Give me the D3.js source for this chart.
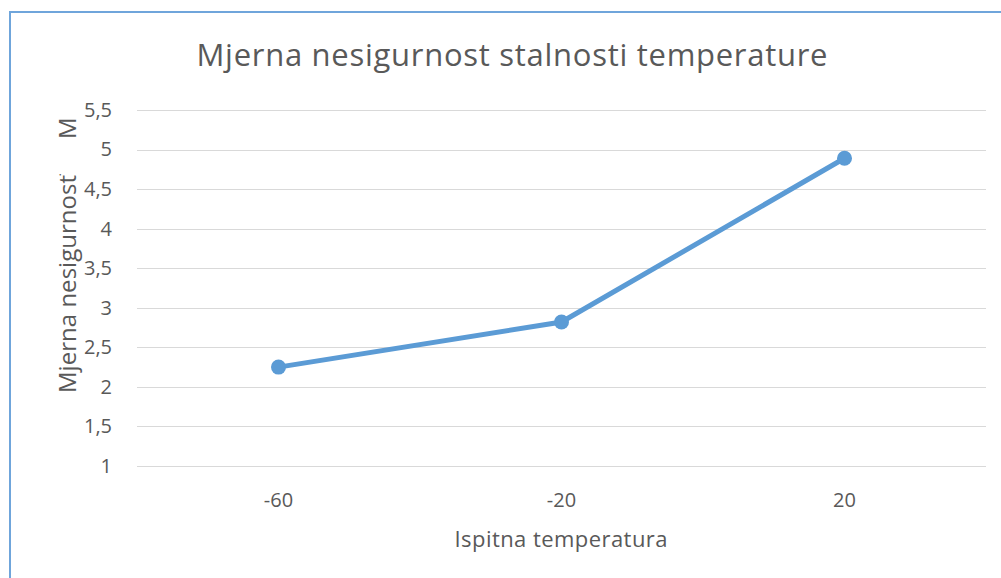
<!DOCTYPE html>
<html>
<head>
<meta charset="utf-8">
<script src="https://cdn.jsdelivr.net/npm/d3@7"></script>
<style>
  body { margin:0; background:#fff; }
  text { font-family: "Open Sans", "Noto Sans", sans-serif; fill:#595959; }
</style>
</head>
<body>
<svg id="chart"></svg>
<script>
const W = 1001, H = 578;

const categories = ['-60', '-20', '20'];
const values = [2.25, 2.82, 4.89];
const yTicks = [1, 1.5, 2, 2.5, 3, 3.5, 4, 4.5, 5, 5.5];

const svg = d3.select('#chart').attr('width', W).attr('height', H);

// chart frame (clipped on right/bottom in the reference)
svg.append('path')
  .attr('d', `M10,${H}V12H${W}`)
  .attr('fill', 'none').attr('stroke', '#6fa5db').attr('stroke-width', 2);

const x = d3.scaleBand().domain(categories).range([137, 986]);
const y = d3.scaleLinear().domain([1, 5.5]).range([466, 110]);

// gridlines
svg.append('g').selectAll('line').data(yTicks).join('line')
  .attr('x1', 137).attr('x2', 986)
  .attr('y1', d => Math.round(y(d)) + .5).attr('y2', d => Math.round(y(d)) + .5)
  .attr('stroke', '#d9d9d9').attr('stroke-width', 1);

// y axis
const yAxis = svg.append('g').attr('transform', 'translate(124,0)')
  .call(d3.axisLeft(y).tickValues(yTicks).tickSize(0).tickPadding(12)
    .tickFormat(d => String(d).replace('.', ',')));
yAxis.select('.domain').remove();
yAxis.attr('font-size', 20).selectAll('text').attr('fill', '#595959');

// x axis
const xAxis = svg.append('g').attr('transform', 'translate(0,466)')
  .call(d3.axisBottom(x).tickSize(0).tickPadding(0));
xAxis.select('.domain').remove();
xAxis.attr('font-size', 20).selectAll('text').attr('fill', '#595959')
  .attr('dy', null).attr('y', 41);

// line
const line = d3.line().x((d, i) => x(categories[i]) + x.bandwidth() / 2).y(d => y(d));
svg.append('path').datum(values)
  .attr('d', line).attr('fill', 'none')
  .attr('stroke', '#5b9bd5').attr('stroke-width', 5).attr('stroke-linecap', 'round');

svg.append('g').selectAll('circle').data(values).join('circle')
  .attr('cx', (d, i) => x(categories[i]) + x.bandwidth() / 2)
  .attr('cy', d => y(d)).attr('r', 7.5).attr('fill', '#5b9bd5');

// titles
svg.append('text').attr('x', 512).attr('y', 66).attr('text-anchor', 'middle')
  .attr('textLength', 631)
  .style('font-size', '31px').text('Mjerna nesigurnost stalnosti temperature');

svg.append('text').attr('x', 561).attr('y', 547).attr('text-anchor', 'middle')
  .attr('textLength', 213)
  .style('font-size', '22px').text('Ispitna temperatura');

const yt = svg.append('text').attr('transform', 'translate(76,0) rotate(-90)')
  .style('font-size', '24px');
yt.append('tspan').attr('x', -393).attr('textLength', 218).text('Mjerna nesigurnost');
yt.append('tspan').attr('x', -176).attr('dy', -6).style('font-size', '14px').text('˙');
yt.append('tspan').attr('x', -139).attr('dy', 6).text('M');
</script>
</body>
</html>
